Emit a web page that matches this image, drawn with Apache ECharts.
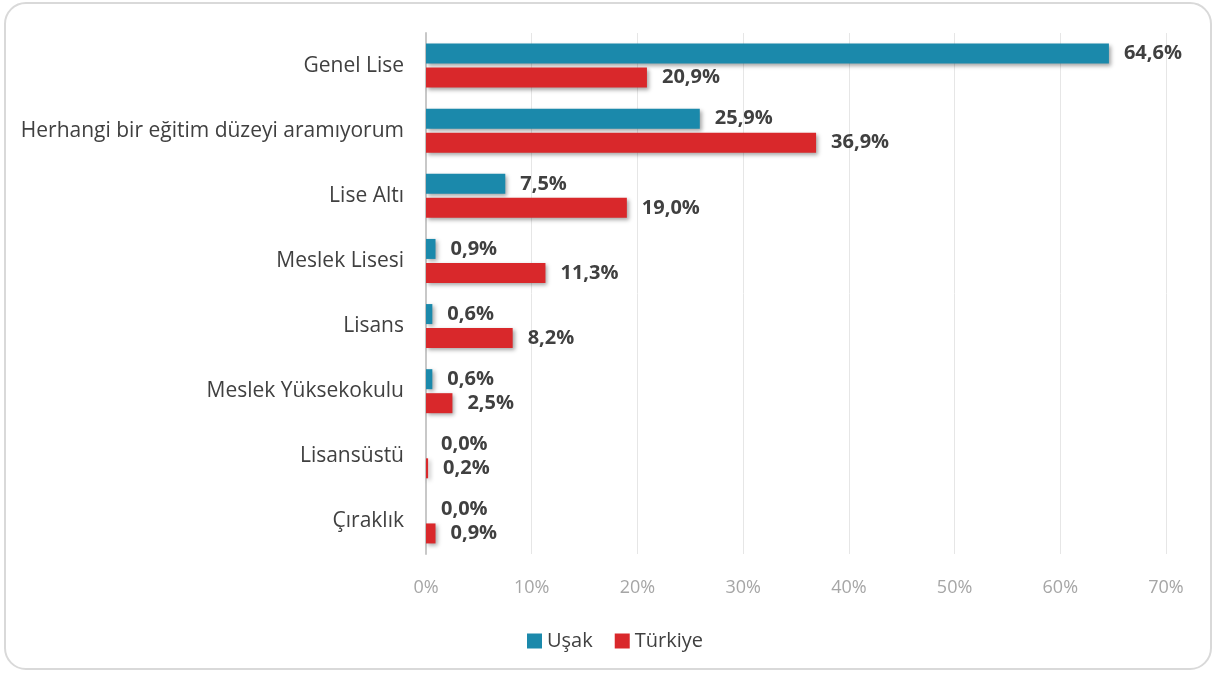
<!DOCTYPE html>
<html>
<head>
<meta charset="utf-8">
<script src="https://cdn.jsdelivr.net/npm/echarts@6/dist/echarts.min.js"></script>
<style>
  html, body { margin: 0; padding: 0; background: #fff; }
  #chart {
    position: absolute; left: 4px; top: 2px;
    width: 1208px; height: 668px;
    border: 2px solid #d9d9d9; border-radius: 22px;
    box-sizing: border-box; overflow: hidden;
  }
</style>
</head>
<body>
<div id="chart"></div>
<script>
const categories = ['Genel Lise', 'Herhangi bir eğitim düzeyi aramıyorum', 'Lise Altı', 'Meslek Lisesi', 'Lisans', 'Meslek Yüksekokulu', 'Lisansüstü', 'Çıraklık']
const usakValues = [64.6, 25.9, 7.5, 0.9, 0.6, 0.6, 0.0, 0.0]
const turkiyeValues = [20.9, 36.9, 19.0, 11.3, 8.2, 2.5, 0.2, 0.9]
const xTicks = [0, 10, 20, 30, 40, 50, 60, 70]

const mChart = echarts.init(document.getElementById('chart'))

const fmt = v => v.toFixed(1).replace('.', ',') + '%'

const makeSeries = (name, data, color) => ({
  name: name,
  type: 'bar',
  data: data,
  barWidth: 20,
  barGap: '20%',
  barCategoryGap: '33%',
  itemStyle: {
    color: color,
    shadowColor: 'rgba(0,0,0,0.35)',
    shadowBlur: 4,
    shadowOffsetX: 2,
    shadowOffsetY: 2
  },
  label: {
    show: true,
    position: 'right',
    distance: 15,
    formatter: p => fmt(p.value),
    fontFamily: 'Open Sans',
    fontWeight: 'bold',
    fontSize: 20,
    color: '#404040'
  }
})

const options = {
  animation: false,
  textStyle: { fontFamily: 'Open Sans' },
  grid: { left: 420, right: 44, top: 29, bottom: 114, containLabel: false },
  legend: {
    bottom: 12,
    left: 516,
    icon: 'rect',
    itemWidth: 15,
    itemHeight: 15,
    itemGap: 22,
    itemTextGap: 5,
    textStyle: { fontSize: 20, color: '#404040', fontFamily: 'Open Sans' },
    data: ['Uşak', 'Türkiye']
  },
  xAxis: {
    type: 'value',
    min: xTicks[0],
    max: xTicks[xTicks.length - 1],
    interval: 10,
    axisLabel: {
      formatter: '{value}%',
      color: '#a6a6a6',
      fontSize: 18,
      margin: 25
    },
    splitLine: { lineStyle: { color: '#e6e6e6' } },
    axisLine: { show: false },
    axisTick: { show: false }
  },
  yAxis: {
    type: 'category',
    inverse: true,
    data: categories,
    axisLine: { lineStyle: { color: '#c8c8c8', width: 2 } },
    axisTick: { show: false },
    axisLabel: { fontSize: 21, color: '#404040', margin: 22 }
  },
  series: [
    makeSeries('Uşak', usakValues, '#1b89ab'),
    makeSeries('Türkiye', turkiyeValues, '#d9282b')
  ]
}
mChart.setOption(options)
</script>
</body>
</html>
